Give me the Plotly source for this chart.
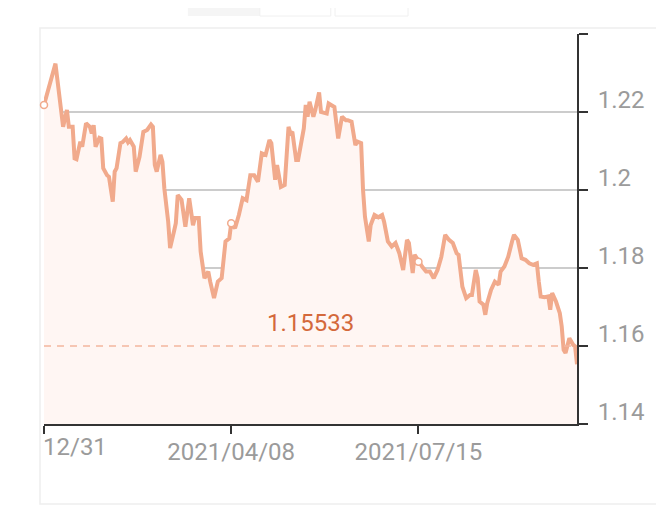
import plotly.graph_objects as go

# EUR/USD style daily series
dates = [
    "2020-12-31", "2021-01-06", "2021-01-10", "2021-01-12", "2021-01-13", "2021-01-15",
    "2021-01-16", "2021-01-17", "2021-01-19", "2021-01-20", "2021-01-22", "2021-01-24",
    "2021-01-25", "2021-01-26", "2021-01-27", "2021-01-29", "2021-01-30", "2021-01-31",
    "2021-02-02", "2021-02-03", "2021-02-05", "2021-02-06", "2021-02-07", "2021-02-09",
    "2021-02-10", "2021-02-12", "2021-02-13", "2021-02-14", "2021-02-16", "2021-02-17",
    "2021-02-19", "2021-02-21", "2021-02-23", "2021-02-25", "2021-02-26", "2021-02-27",
    "2021-02-28", "2021-03-02", "2021-03-03", "2021-03-04", "2021-03-06", "2021-03-07",
    "2021-03-09", "2021-03-10", "2021-03-11", "2021-03-13", "2021-03-15", "2021-03-17",
    "2021-03-19", "2021-03-20", "2021-03-22", "2021-03-23", "2021-03-25", "2021-03-27",
    "2021-03-28", "2021-03-30", "2021-04-01", "2021-04-03", "2021-04-05", "2021-04-07",
    "2021-04-08", "2021-04-10", "2021-04-12", "2021-04-14", "2021-04-16", "2021-04-18",
    "2021-04-20", "2021-04-22", "2021-04-24", "2021-04-26", "2021-04-28", "2021-04-29",
    "2021-05-01", "2021-05-02", "2021-05-04", "2021-05-06", "2021-05-08", "2021-05-09",
    "2021-05-10", "2021-05-12", "2021-05-13", "2021-05-15", "2021-05-16", "2021-05-17",
    "2021-05-18", "2021-05-19", "2021-05-21", "2021-05-22", "2021-05-24", "2021-05-25",
    "2021-05-27", "2021-05-28", "2021-05-29", "2021-06-01", "2021-06-03", "2021-06-05",
    "2021-06-07", "2021-06-08", "2021-06-10", "2021-06-12", "2021-06-13", "2021-06-15",
    "2021-06-16", "2021-06-17", "2021-06-19", "2021-06-20", "2021-06-22", "2021-06-24",
    "2021-06-26", "2021-06-27", "2021-06-29", "2021-07-01", "2021-07-03", "2021-07-05",
    "2021-07-07", "2021-07-09", "2021-07-10", "2021-07-12", "2021-07-13", "2021-07-15",
    "2021-07-17", "2021-07-19", "2021-07-21", "2021-07-23", "2021-07-25", "2021-07-27",
    "2021-07-29", "2021-07-31", "2021-08-02", "2021-08-04", "2021-08-05", "2021-08-07",
    "2021-08-09", "2021-08-11", "2021-08-12", "2021-08-14", "2021-08-15", "2021-08-16",
    "2021-08-18", "2021-08-19", "2021-08-20", "2021-08-22", "2021-08-24", "2021-08-26",
    "2021-08-27", "2021-08-29", "2021-08-31", "2021-09-02", "2021-09-03", "2021-09-05",
    "2021-09-07", "2021-09-09", "2021-09-11", "2021-09-13", "2021-09-15", "2021-09-16",
    "2021-09-17", "2021-09-19", "2021-09-21", "2021-09-22", "2021-09-23", "2021-09-25",
    "2021-09-27", "2021-09-28", "2021-09-29", "2021-09-30", "2021-10-02", "2021-10-04",
    "2021-10-05", "2021-10-06",
]
rates = [
    1.2218, 1.2324, 1.2162, 1.2205, 1.2162, 1.2162,
    1.2081, 1.2079, 1.2124, 1.2111, 1.2171, 1.2162,
    1.2145, 1.2166, 1.2111, 1.2134, 1.2132, 1.2056,
    1.2038, 1.2034, 1.1970, 1.2047, 1.2056, 1.2120,
    1.2122, 1.2132, 1.2122, 1.2128, 1.2111, 1.2047,
    1.2085, 1.2149, 1.2154, 1.2168, 1.2162, 1.2064,
    1.2047, 1.2090, 1.2072, 1.2004, 1.1919, 1.1851,
    1.1893, 1.1915, 1.1987, 1.1975, 1.1906, 1.1979,
    1.1910, 1.1928, 1.1928, 1.1842, 1.1774, 1.1791,
    1.1765, 1.1723, 1.1765, 1.1774, 1.1868, 1.1876,
    1.1915, 1.1902, 1.1936, 1.1979, 1.1974, 1.2038,
    1.2038, 1.2021, 1.2094, 1.2090, 1.2128, 1.2120,
    1.2026, 1.2064, 1.2008, 1.2013, 1.2162, 1.2145,
    1.2149, 1.2077, 1.2077, 1.2141, 1.2158, 1.2218,
    1.2188, 1.2226, 1.2188, 1.2205, 1.2250, 1.2200,
    1.2196, 1.2196, 1.2222, 1.2213, 1.2132, 1.2188,
    1.2179, 1.2179, 1.2175, 1.2115, 1.2124, 1.2120,
    1.2000, 1.1932, 1.1868, 1.1910, 1.1936, 1.1930,
    1.1936, 1.1919, 1.1868, 1.1855, 1.1864, 1.1838,
    1.1795, 1.1872, 1.1864, 1.1787, 1.1834, 1.1816,
    1.1803, 1.1791, 1.1791, 1.1774, 1.1795, 1.1829,
    1.1885, 1.1872, 1.1864, 1.1838, 1.1834, 1.1752,
    1.1723, 1.1731, 1.1731, 1.1795, 1.1774, 1.1714,
    1.1706, 1.1680, 1.1710, 1.1744, 1.1765, 1.1757,
    1.1791, 1.1804, 1.1829, 1.1868, 1.1885, 1.1872,
    1.1825, 1.1821, 1.1812, 1.1808, 1.1812, 1.1765,
    1.1727, 1.1725, 1.1727, 1.1693, 1.1736, 1.1714,
    1.1684, 1.1650, 1.1590, 1.1582, 1.1620, 1.1603,
    1.1599, 1.15533,
]

marker_dates = ["2020-12-31", "2021-04-08", "2021-07-15"]
x_tick_dates = ["2020-12-31", "2021-04-08", "2021-07-15"]
x_tick_text = ["", "2021/04/08", "2021/07/15"]
first_tick_text = "12/31"
y_ticks = [1.14, 1.16, 1.18, 1.2, 1.22, 1.24]
y_tick_text = ["1.14", "1.16", "1.18", "1.2", "1.22", ""]
ref_level = 1.16
last_label = "1.15533"

line_color = "#f1aa8c"
fill_color = "#fff6f3"
label_gray = "#9b9b9b"
axis_dark = "#333333"
font_family = "Roboto, Arial, sans-serif"

fig = go.Figure()

# shaded area + line
fig.add_trace(go.Scatter(
    x=dates, y=rates, mode="lines",
    line=dict(color=line_color, width=4),
    fill="tozeroy", fillcolor=fill_color,
    hoverinfo="skip", showlegend=False,
))

# dashed reference line
fig.add_trace(go.Scatter(
    x=[dates[0], dates[-1]], y=[ref_level, ref_level], mode="lines",
    line=dict(color="#f3b79e", width=1.5, dash="7px,6px"),
    hoverinfo="skip", showlegend=False,
))

# hollow markers on the tick dates
marker_vals = [rates[dates.index(d)] for d in marker_dates]
fig.add_trace(go.Scatter(
    x=marker_dates, y=marker_vals, mode="markers",
    marker=dict(symbol="circle", size=7, color="white", line=dict(color=line_color, width=1.5)),
    hoverinfo="skip", showlegend=False, cliponaxis=False,
))

fig.add_annotation(
    x=0.5, xref="paper", y=ref_level, yref="y", yanchor="bottom",
    text=last_label, showarrow=False, yshift=7,
    font=dict(family=font_family, size=24, color="#d4693b"),
)
# first x label is cut by the card edge in the original
fig.add_annotation(
    x=x_tick_dates[0], xref="x", xanchor="left", y=0, yref="paper", yanchor="top",
    text=first_tick_text, showarrow=False, yshift=-7, xshift=-3,
    font=dict(family=font_family, size=24, color=label_gray),
)

shapes = [
    # card border
    dict(type="rect", xref="paper", yref="paper", x0=-0.0075, x1=1.3, y0=-0.205, y1=1.0154,
         line=dict(color="#eeeeee", width=1.5), fillcolor="rgba(0,0,0,0)", layer="below"),
    # tab strip at the top
    dict(type="rect", xref="paper", yref="paper", x0=0.270, x1=0.405, y0=1.046, y1=1.1,
         line=dict(width=0), fillcolor="#f5f5f5", layer="below"),
    dict(type="rect", xref="paper", yref="paper", x0=0.405, x1=0.538, y0=1.046, y1=1.1,
         line=dict(color="#f0f0f0", width=1), fillcolor="white", layer="below"),
    dict(type="rect", xref="paper", yref="paper", x0=0.546, x1=0.683, y0=1.046, y1=1.1,
         line=dict(color="#f0f0f0", width=1), fillcolor="white", layer="below"),
]

# page body has an 8px margin, so the figure is shrunk and shifted to compensate
fig.update_layout(
    width=656, height=504,
    margin=dict(l=36, r=87, t=26, b=88),
    paper_bgcolor="white", plot_bgcolor="white",
    font=dict(family=font_family, size=24, color=label_gray),
    shapes=shapes,
    showlegend=False,
)
fig.update_xaxes(
    type="date", range=[dates[0], dates[-1]],
    tickvals=x_tick_dates, ticktext=x_tick_text,
    showgrid=False, zeroline=False,
    showline=True, linecolor=axis_dark, linewidth=2,
    ticks="outside", ticklen=8, tickwidth=2, tickcolor=axis_dark,
    tickfont=dict(size=24, color=label_gray),
    ticklabelstandoff=-3,
)
# labels sit just above their tick, a bit away from the axis
fig.update_yaxes(
    range=[1.14, 1.24], side="right",
    tickvals=y_ticks, ticktext=y_tick_text,
    showgrid=True, gridcolor="#cccccc", gridwidth=1.5, zeroline=False,
    showline=True, linecolor=axis_dark, linewidth=2,
    ticks="outside", ticklen=9, tickwidth=2, tickcolor=axis_dark,
    tickfont=dict(size=24, color=label_gray),
    ticklabelposition="outside", ticklabelstandoff=5, ticklabelshift=-12,
)

fig.write_html("out.html")
